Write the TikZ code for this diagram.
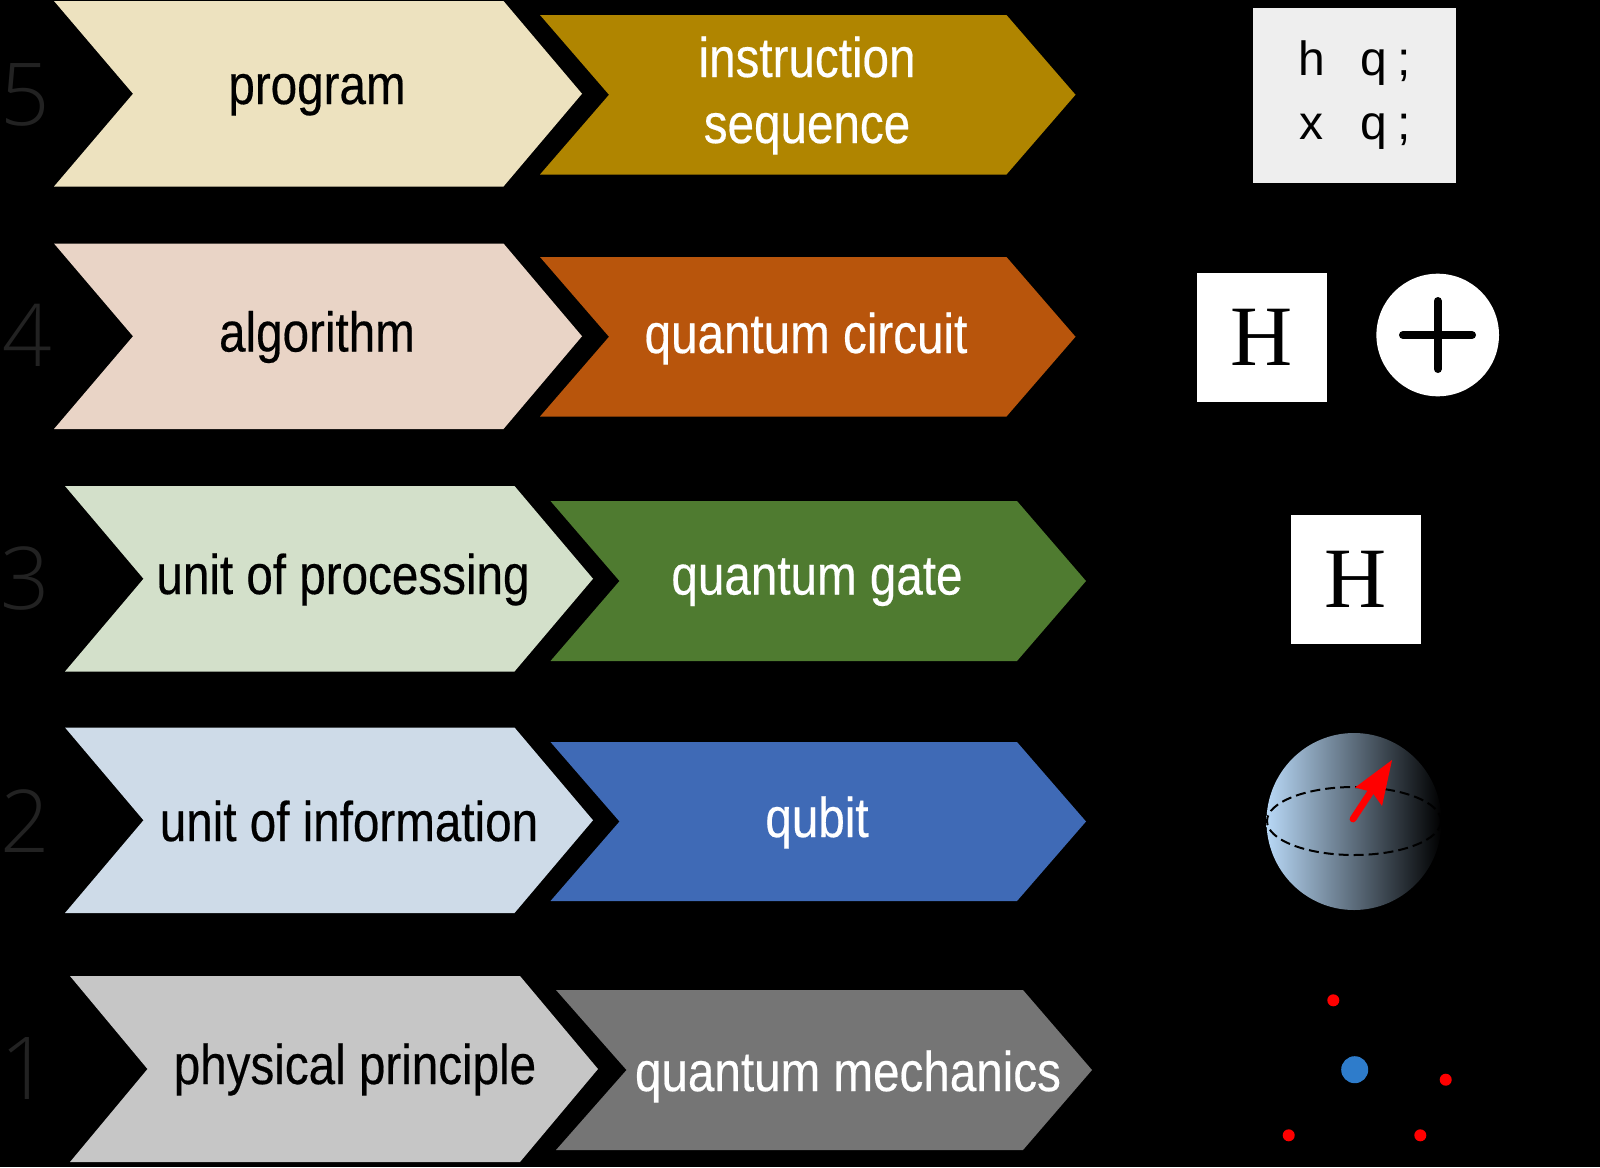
\documentclass[tikz,border=0pt]{standalone}
\usepackage{fontspec}
\setmainfont{Liberation Serif}
\newfontfamily\labelfont[FakeStretch=0.85,FakeBold=0.35]{Liberation Sans}
\newfontfamily\digitfont{Open Sans Light}
\newfontfamily\codefont{Liberation Sans}
\definecolor{band5a}{HTML}{EDE2BF}\definecolor{band5b}{HTML}{B08500}
\definecolor{band4a}{HTML}{E9D4C6}\definecolor{band4b}{HTML}{B8550C}
\definecolor{band3a}{HTML}{D3E0CA}\definecolor{band3b}{HTML}{4F7B30}
\definecolor{band2a}{HTML}{CEDBE8}\definecolor{band2b}{HTML}{3F6AB6}
\definecolor{band1a}{HTML}{C6C6C6}\definecolor{band1b}{HTML}{757575}
\definecolor{levelgrey}{HTML}{222222}
\definecolor{codebg}{HTML}{EEEEEE}
\definecolor{nucleus}{HTML}{2E7CCB}
\definecolor{spherelight}{HTML}{B8D8F6}
% chevron: #1 colour; #2 left x; #3 notch x; #4 shoulder x; #5 tip x; #6 top y; #7 bottom y
\newcommand{\chevronband}[7]{%
  \fill[#1] (#2,#6) -- (#4,#6) -- (#5,{(#6+#7)/2}) -- (#4,#7) -- (#2,#7) -- (#3,{(#6+#7)/2}) -- cycle;}
% one listing line: gate letter, qubit name, semicolon
\newcommand{\listingline}[1]{\makebox[13.35pt]{#1}\hspace{17.6pt}q\hspace{5.5pt};}
\tikzset{
  lbl/.style={anchor=base,inner sep=0pt,font=\labelfont\fontsize{28}{32}\selectfont},
  lbldark/.style={lbl,text=black},
  lbllight/.style={lbl,text=white},
  level/.style={anchor=base,inner sep=0pt,text=levelgrey,font=\digitfont\fontsize{43.4}{50}\selectfont},
  codeline/.style={anchor=base west,inner sep=0pt,text=black,font=\codefont\fontsize{24}{30}\selectfont},
  gatesym/.style={anchor=base,inner sep=0pt,text=black,font=\fontsize{43}{50}\selectfont},
  reddot/.style={fill=red},
}
\begin{document}
\begin{tikzpicture}[x=0.5pt,y=-0.5pt]
\useasboundingbox (0,0) rectangle (1600,1167);
\fill[black] (0,0) rectangle (1600,1167);

% level numbers
\node[level] (n5) at (25,125) {5};
\node[level] (n4) at (27,366) {4};
\node[level] (n3) at (25,609) {3};
\node[level] (n2) at (25,852) {2};
\node[level] (n1) at (25,1099) {1};

% left column of chevrons
\chevronband{band5a}{54}{133}{503.5}{582}{1}{186.5}
\chevronband{band4a}{54}{133}{503.5}{582}{243.5}{429}
\chevronband{band3a}{65}{143.5}{514.5}{593}{486}{671.5}
\chevronband{band2a}{65}{143.5}{514.5}{593}{727.5}{913}
\chevronband{band1a}{70}{147.5}{520}{598}{976}{1162}

% right column of chevrons
\chevronband{band5b}{540}{609}{1006.5}{1075.5}{15}{174.5}
\chevronband{band4b}{540}{609}{1006.5}{1075.5}{257}{416.5}
\chevronband{band3b}{550.5}{619.5}{1017}{1086}{501}{661}
\chevronband{band2b}{550.5}{619.5}{1017}{1086}{742}{901}
\chevronband{band1b}{556}{626.5}{1023}{1092}{990}{1150}

% labels
\node[lbldark] (t5a) at (317,104) {program};
\node[lbllight] (t5b) at (807,77) {instruction};
\node[lbllight] (t5c) at (807,143) {sequence};
\node[lbldark] (t4a) at (317,351.5) {algorithm};
\node[lbllight] (t4b) at (806,353) {quantum circuit};
\node[lbldark] (t3a) at (343,594) {unit of processing};
\node[lbllight] (t3b) at (817,594.5) {quantum gate};
\node[lbldark] (t2a) at (349,841) {unit of information};
\node[lbllight] (t2b) at (817,837) {qubit};
\node[lbldark] (t1a) at (355,1084) {physical principle};
\node[lbllight] (t1b) at (848,1091) {quantum mechanics};

% program listing
\fill[codebg] (1252.5,7.5) rectangle (1456,182.5);
\node[codeline] (c1) at (1298,75) {\listingline{h}};
\node[codeline] (c2) at (1298,139) {\listingline{x}};

% Hadamard and X gates
\fill[white] (1197,272.5) rectangle (1327,402);
\node[gatesym] (h4) at (1262,365) {H};
\fill[white] (1437.7,335) circle[radius=61.3];
\draw[black,line width=4pt,line cap=round] (1437.7,301) -- (1437.7,369);
\draw[black,line width=4pt,line cap=round] (1403,335) -- (1472,335);
\fill[white] (1291,514.5) rectangle (1420.5,644);
\node[gatesym] (h3) at (1356,607) {H};

% Bloch sphere
\shade[left color=spherelight,right color=black] (1354,821.5) ellipse[x radius=87.5,y radius=88.5];
\draw[black,line width=1pt,dash pattern=on 5pt off 2.5pt] (1354,821) ellipse[x radius=87,y radius=34];
\coordinate (tail) at (1353,819);
\coordinate (neck) at (1372,790);
\draw[red,line width=3.4pt,line cap=round] (tail) -- (neck);
\fill[red] (1392,760) -- (1355,787.5) -- (1372,792) -- (1382,806) -- cycle;

% atom
\fill[nucleus] (1354.7,1069.7) circle[radius=13.5];
\foreach \ex/\ey in {1333.3/1000.3,1445.7/1079.7,1288.7/1135.3,1420.3/1135.3}
  \fill[reddot] (\ex,\ey) circle[radius=6];
\end{tikzpicture}
\end{document}
